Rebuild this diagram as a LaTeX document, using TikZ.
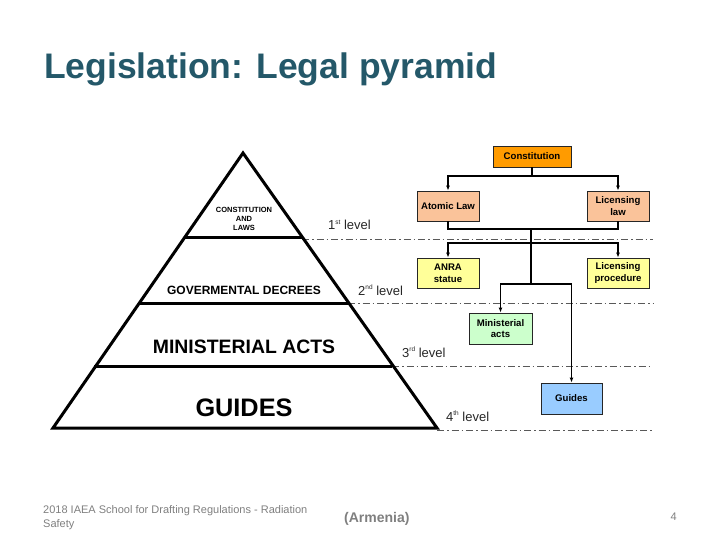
\documentclass[tikz,border=0pt]{standalone}
\usepackage{fontspec}
\setmainfont{Liberation Sans}
\usetikzlibrary{arrows.meta}
\definecolor{titlec}{HTML}{245869}
\definecolor{corange}{HTML}{FF9B00}
\definecolor{cpeach}{HTML}{FAC39A}
\definecolor{cyellow}{HTML}{FFFF99}
\definecolor{cgreen}{HTML}{CCFFCC}
\definecolor{cblue}{HTML}{99CCFF}
\definecolor{footc}{HTML}{7F7F7F}
\newcommand\lvlsup[1]{\raisebox{5.5bp}{\fontsize{6.5bp}{7bp}\selectfont #1}}
\tikzset{
  box/.style={draw=black!85, line width=0.8bp, minimum width=62bp, minimum height=30bp, inner sep=1bp, align=center, font=\fontsize{9.6bp}{11.5bp}\selectfont\bfseries},
  conn/.style={line width=1.2bp},
  arr/.style={conn, -{Latex[length=5bp,width=4bp]}},
  lvl/.style={dash pattern=on 7bp off 3bp on 1.5bp off 3bp, line width=0.7bp, draw=black!65},
  pyr/.style={line width=3bp},
  lvltext/.style={anchor=base west, font=\fontsize{13bp}{15bp}\selectfont, text=black!85, inner sep=0pt},
  foot/.style={inner sep=0pt, text=footc}
}
\begin{document}
\begin{tikzpicture}[x=1bp,y=-1bp]
\useasboundingbox (0,0) rectangle (720,540);
% title
\node[anchor=base west, inner sep=0pt, text=titlec, font=\fontsize{35.5bp}{40bp}\selectfont\bfseries] (title) at (44,79) {Legislation: Legal pyramid};
% dash-dot level lines
\draw[lvl] (302,239) -- (653,239);
\draw[lvl] (348,303) -- (653,303);
\draw[lvl] (392,366) -- (653,366);
\draw[lvl] (437,430) -- (653,430);
% pyramid
\draw[pyr, line join=miter] (243,153) -- (437,428) -- (53,428) -- cycle;
\draw[pyr] (183.7,238) -- (302.3,238);
\draw[pyr] (138.3,303) -- (347.7,303);
\draw[pyr] (94.3,366) -- (391.7,366);
\node[align=center, inner sep=0pt, font=\fontsize{7.5bp}{9bp}\selectfont\bfseries] (p1) at (244,219) {CONSTITUTION\\AND\\LAWS};
\node[inner sep=0pt, font=\fontsize{12bp}{14bp}\selectfont\bfseries] (p2) at (244,290) {GOVERMENTAL DECREES};
\node[inner sep=0pt, font=\fontsize{19.4bp}{22bp}\selectfont\bfseries] (p3) at (244,347) {MINISTERIAL ACTS};
\node[inner sep=0pt, font=\fontsize{25.3bp}{28bp}\selectfont\bfseries] (p4) at (244,408) {GUIDES};
% level labels
\node[lvltext] (l1) at (328,230) {1\lvlsup{st} level};
\node[lvltext] (l2) at (358,295) {2\lvlsup{nd} level};
\node[lvltext] (l3) at (402,357) {3\lvlsup{rd} level};
\node[lvltext] (l4) at (446,421) {4\lvlsup{th} level};
% boxes
\node[box, fill=corange, minimum width=78bp, minimum height=21bp] (const) at (532,156.5) {Constitution};
\node[box, fill=cpeach] (atomic) at (448,206) {Atomic Law};
\node[box, fill=cpeach] (liclaw) at (618,206) {Licensing\\law};
\node[box, fill=cyellow] (anra) at (448,273) {ANRA\\statue};
\node[box, fill=cyellow] (licproc) at (618,273) {Licensing\\procedure};
\node[box, fill=cgreen, minimum width=63bp, minimum height=31bp] (mini) at (500.5,328.5) {Ministerial\\acts};
\node[box, fill=cblue, minimum width=61bp, minimum height=31bp] (guides) at (571.5,398.5) {Guides};
% connectors
\coordinate (c1) at (532,176);
\coordinate (j1) at (531,229);
\coordinate (j2) at (531,243);
\coordinate (j3) at (531,284);
\draw[conn] (const.south) -- (c1);
\draw[arr] (c1) -| (atomic.north);
\draw[arr] (c1) -| (liclaw.north);
\draw[conn, line width=2bp] (atomic.south) |- (j1) -| (liclaw.south);
\draw[conn, line width=1.6bp] (j1) -- (j3);
\draw[arr] (j2) -| (anra.north);
\draw[arr] (j2) -| (licproc.north);
\draw[arr] (j3) -| (mini.north);
\draw[arr] (j3) -| (guides.north);
% footer
\node[foot, anchor=base west, align=left, font=\fontsize{11bp}{14bp}\selectfont] (f1) at (43,527) {2018 IAEA School for Drafting Regulations - Radiation\\Safety};
\node[foot, anchor=base west, font=\fontsize{14bp}{16bp}\selectfont\bfseries] (f2) at (344,522) {(Armenia)};
\node[foot, anchor=base east, font=\fontsize{11bp}{13bp}\selectfont] (f3) at (677,520) {4};
\end{tikzpicture}
\end{document}
